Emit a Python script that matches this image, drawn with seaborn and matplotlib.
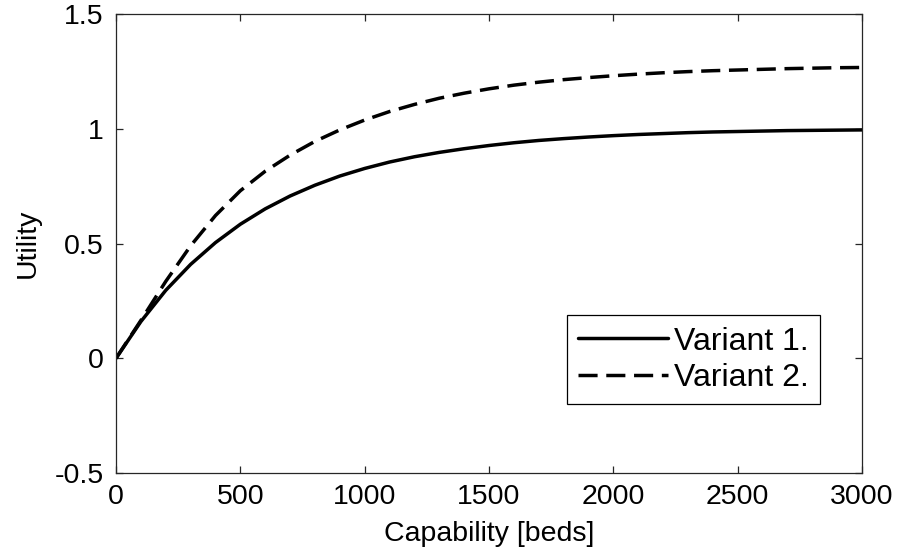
import numpy as np
import pandas as pd
import matplotlib
matplotlib.use("Agg")
import matplotlib.pyplot as plt
from matplotlib.lines import Line2D
import seaborn as sns

capability = [0, 100, 200, 300, 400, 500, 600, 700, 800, 900, 1000, 1100, 1200, 1300,
              1400, 1500, 1600, 1700, 1800, 1900, 2000, 2100, 2200, 2300, 2400, 2500,
              2600, 2700, 2800, 2900, 3000]
variant1 = [0.0, 0.16, 0.296, 0.409, 0.504, 0.584, 0.651, 0.707, 0.754, 0.794, 0.827, 0.855,
            0.878, 0.897, 0.913, 0.927, 0.939, 0.949, 0.957, 0.964, 0.970, 0.975, 0.979,
            0.983, 0.986, 0.988, 0.990, 0.992, 0.993, 0.994, 0.995]
variant2 = [0.0, 0.165, 0.335, 0.49, 0.622, 0.73, 0.815, 0.885, 0.945, 0.995, 1.038, 1.075,
            1.106, 1.133, 1.155, 1.174, 1.19, 1.203, 1.214, 1.223, 1.231, 1.238, 1.244, 1.249,
            1.253, 1.256, 1.259, 1.262, 1.264, 1.266, 1.267]
labels = ["Variant 1.", "Variant 2."]
xticks = [0, 500, 1000, 1500, 2000, 2500, 3000]
yticks = [-0.5, 0, 0.5, 1, 1.5]
ytick_labels = ["-0.5", "0", "0.5", "1", "1.5"]

sns.set_style("ticks")
plt.rcParams["font.family"] = ["Liberation Sans", "DejaVu Sans"]
plt.rcParams["text.color"] = "black"
plt.rcParams["axes.labelcolor"] = "black"
plt.rcParams["xtick.labelcolor"] = "black"
plt.rcParams["ytick.labelcolor"] = "black"
fs = 20.5

df = pd.DataFrame({
    "Capability": capability * 2,
    "Utility": variant1 + variant2,
    "Variant": [labels[0]] * len(capability) + [labels[1]] * len(capability),
})

fig = plt.figure(figsize=(9.03, 5.56), dpi=100)
ax = fig.add_axes([0.1285, 0.1493, 0.8261, 0.8255])

sns.lineplot(data=df, x="Capability", y="Utility", hue="Variant", style="Variant",
             palette=["black", "black"], dashes={labels[0]: "", labels[1]: (5.5, 2.5)},
             linewidth=2.5, ax=ax, legend=False)

ax.set_xlim(0, 3000)
ax.set_ylim(-0.5, 1.5)
ax.set_xticks(xticks)
ax.set_xticklabels([str(t) for t in xticks], fontsize=fs)
ax.set_yticks(yticks)
ax.set_yticklabels(ytick_labels, fontsize=fs)
ax.set_xlabel("Capability [beds]", fontsize=fs, labelpad=8, color="black")
ax.set_ylabel("Utility", fontsize=fs, labelpad=10, color="black")

for s in ax.spines.values():
    s.set_visible(True)
    s.set_linewidth(0.9)
    s.set_color("#262626")
ax.tick_params(axis="both", direction="in", length=5, width=0.9, top=True, right=True,
               color="#262626", labelcolor="black")
ax.tick_params(axis="x", pad=8)
ax.tick_params(axis="y", pad=9)

handles = [Line2D([], [], color="black", lw=2.5),
           Line2D([], [], color="black", lw=2.5, dashes=(5.5, 2.5))]
leg = ax.legend(handles, labels, loc="lower right", bbox_to_anchor=(0.944, 0.150),
                fontsize=23, frameon=True, fancybox=False, framealpha=1,
                edgecolor="black", handlelength=2.8, handletextpad=0.2,
                borderpad=0.35, labelspacing=0.2, borderaxespad=0)
leg.get_frame().set_linewidth(0.9)
for t in leg.get_texts():
    t.set_color("black")

fig.savefig("out.png", dpi=100)
